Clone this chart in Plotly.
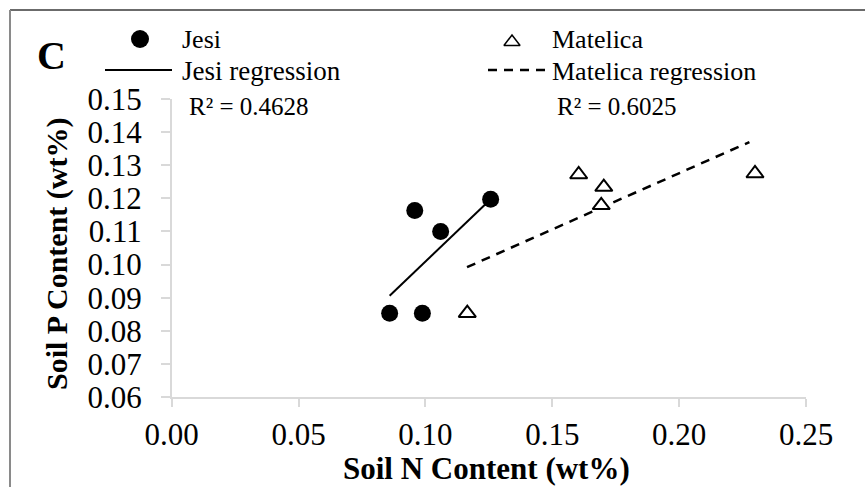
import plotly.graph_objects as go

# Soil nutrient measurements (wt%)
jesi_n = [0.0859, 0.0988, 0.0958, 0.1060, 0.1257]
jesi_p = [0.0853, 0.0853, 0.1163, 0.1100, 0.1197]
matelica_n = [0.1165, 0.1604, 0.1703, 0.1693, 0.2299]
matelica_p = [0.0853, 0.1272, 0.1234, 0.1179, 0.1275]

# Linear trend lines (end points)
jesi_fit_n = [0.0859, 0.1257]
jesi_fit_p = [0.0906, 0.1197]
matelica_fit_n = [0.1164, 0.2277]
matelica_fit_p = [0.0992, 0.1370]

jesi_r2 = "R² = 0.4628"
matelica_r2 = "R² = 0.6025"

x_ticks = [0.00, 0.05, 0.10, 0.15, 0.20, 0.25]
y_ticks = [0.06, 0.07, 0.08, 0.09, 0.10, 0.11, 0.12, 0.13, 0.14, 0.15]

W, H = 865, 487
FONT = "Times New Roman, Liberation Serif, serif"
AXIS_GREY = "#d9d9d9"

# plot-area edges in pixels
px_left, px_right, px_top, px_bottom = 171.7, 806.0, 99.0, 397.0

fig = go.Figure()

fig.add_trace(go.Scatter(
    x=jesi_fit_n, y=jesi_fit_p, mode="lines",
    line=dict(color="black", width=2), showlegend=False, hoverinfo="skip"))
fig.add_trace(go.Scatter(
    x=matelica_fit_n, y=matelica_fit_p, mode="lines",
    line=dict(color="black", width=2.5, dash="9px,7px"), showlegend=False, hoverinfo="skip"))
fig.add_trace(go.Scatter(
    x=jesi_n, y=jesi_p, mode="markers", name="Jesi",
    marker=dict(symbol="circle", size=17, color="black"), showlegend=False))
fig.add_trace(go.Scatter(
    x=matelica_n, y=matelica_p, mode="markers", name="Matelica",
    marker=dict(symbol="triangle-up", size=15, color="white",
                line=dict(color="black", width=2)), showlegend=False))

# key symbols, placed on a pixel-scaled overlay axis
fig.add_trace(go.Scatter(
    x=[140], y=[39], xaxis="x2", yaxis="y2", mode="markers",
    marker=dict(symbol="circle", size=18, color="black"),
    showlegend=False, hoverinfo="skip"))
fig.add_trace(go.Scatter(
    x=[512], y=[42], xaxis="x2", yaxis="y2", mode="markers",
    marker=dict(symbol="triangle-up-open", size=14, color="black",
                line=dict(color="black", width=1.5)),
    showlegend=False, hoverinfo="skip"))
fig.add_trace(go.Scatter(
    x=[105, 172], y=[70, 70], xaxis="x2", yaxis="y2", mode="lines",
    line=dict(color="black", width=2), showlegend=False, hoverinfo="skip"))
fig.add_trace(go.Scatter(
    x=[488, 547], y=[70, 70], xaxis="x2", yaxis="y2", mode="lines",
    line=dict(color="black", width=2.5, dash="9px,7px"), showlegend=False, hoverinfo="skip"))

def ann(text, x, y, size, bold=False, xanchor="left", angle=0):
    fig.add_annotation(
        text=f"<b>{text}</b>" if bold else text,
        x=x, y=y, xref="x2", yref="y2", xanchor=xanchor, yanchor="middle",
        showarrow=False, textangle=angle,
        font=dict(family=FONT, size=size, color="black"))

ann("Jesi", 180, 39, 26)
ann("Jesi regression", 180, 71, 27)
ann("Matelica", 550, 39, 26)
ann("Matelica regression", 550, 71, 26)
ann(jesi_r2, 187, 106, 25)
ann(matelica_r2, 555, 106, 25)
ann("C", 51, 55, 40, bold=True, xanchor="center")
ann("Soil N Content (wt%)", 486, 468, 31, bold=True, xanchor="center")
ann("Soil P Content (wt%)", 57, 254, 30, bold=True, xanchor="center", angle=-90)

# frame lines along the top and left edges
fig.add_shape(type="line", xref="paper", yref="paper",
              x0=10 / W, x1=1.0, y0=1 - 10 / H, y1=1 - 10 / H,
              line=dict(color="#3a3a3a", width=1.5))
fig.add_shape(type="line", xref="paper", yref="paper",
              x0=10 / W, x1=10 / W, y0=0, y1=1 - 10 / H,
              line=dict(color="#8a8a8a", width=2))

fig.update_layout(
    width=W, height=H,
    margin=dict(l=0, r=0, t=0, b=0, autoexpand=False),
    paper_bgcolor="white", plot_bgcolor="rgba(0,0,0,0)",
    font=dict(family=FONT, size=30, color="black"),
    xaxis=dict(
        domain=[px_left / W, px_right / W],
        range=[0, 0.25], tickvals=x_ticks, tickformat=".2f",
        showgrid=False, zeroline=False, automargin=False,
        showline=True, linecolor=AXIS_GREY, linewidth=1.5,
        ticks="outside", ticklen=8, tickwidth=1.5, tickcolor=AXIS_GREY,
        tickfont=dict(family=FONT, size=31, color="black"),
        ticklabelstandoff=1,
    ),
    yaxis=dict(
        domain=[1 - px_bottom / H, 1 - px_top / H],
        range=[0.06, 0.15], tickvals=y_ticks, tickformat=".2f",
        showgrid=False, zeroline=False, automargin=False,
        showline=True, linecolor=AXIS_GREY, linewidth=1.5,
        ticks="outside", ticklen=9, tickwidth=1.5, tickcolor=AXIS_GREY,
        tickfont=dict(family=FONT, size=31, color="black"),
        ticklabelstandoff=13,
    ),
    xaxis2=dict(domain=[0, 1], range=[0, W], visible=False, anchor="y2", automargin=False),
    yaxis2=dict(domain=[0, 1], range=[H, 0], visible=False, anchor="x2", automargin=False),
)

fig.write_html("out.html")
